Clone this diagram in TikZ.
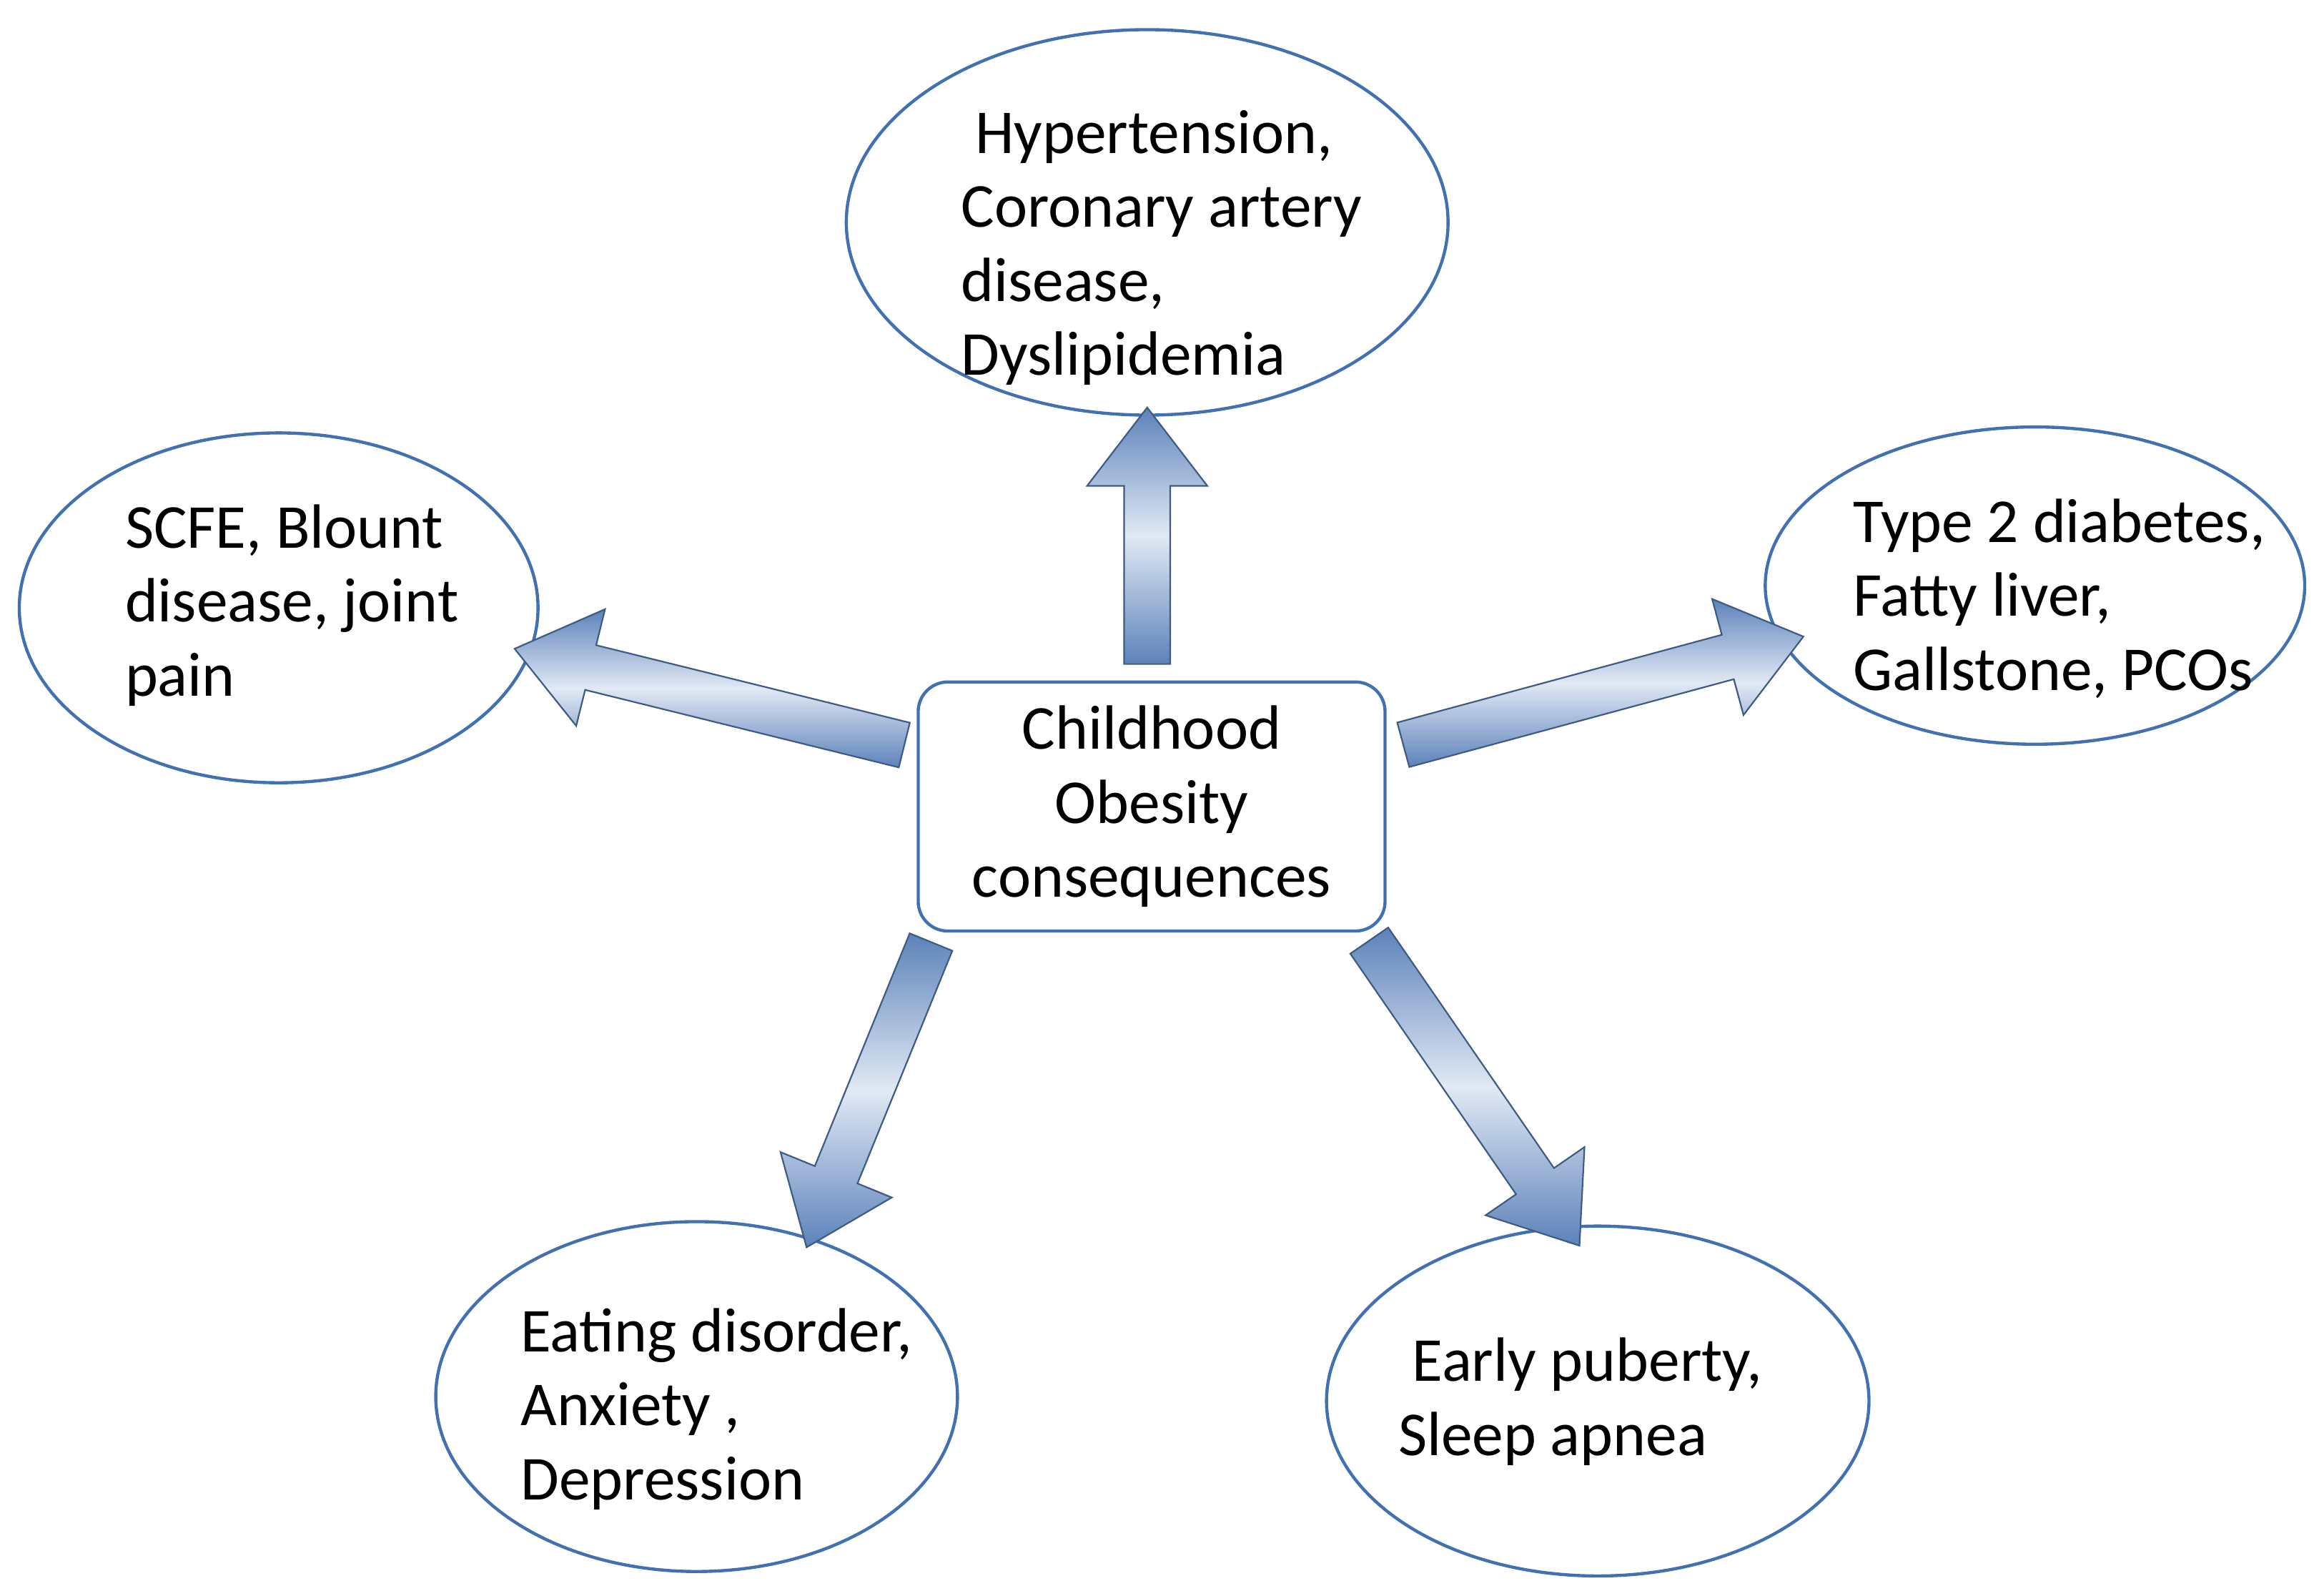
\documentclass[tikz,border=0pt]{standalone}
\usepackage{fontspec}
\setmainfont{Carlito}
\usetikzlibrary{shapes.geometric,shapes.arrows,calc}
\definecolor{eb}{RGB}{65,113,176}
\definecolor{ad}{RGB}{92,130,186}
\definecolor{al}{RGB}{225,233,244}
\begin{document}
\begin{tikzpicture}[x=0.1mm,y=-0.1mm,
 ell/.style={ellipse,draw=eb,line width=0.6pt,fill=white,inner sep=0},
 txt/.style={align=left,font=\fontsize{12}{14.2}\selectfont},
 barrow/.style={single arrow,draw=ad!70!black,line width=0.3pt,minimum width=0.62cm,
   single arrow tip angle=75,inner xsep=0,inner ysep=0.15cm,
   top color=ad,bottom color=ad,middle color=al}]
\useasboundingbox (0,0) rectangle (1568,1073);
\newcommand{\blockarrow}[2]{\path let \p1=(#1), \p2=(#2), \n1={atan2(\y2-\y1,\x2-\x1)}, \n2={veclen(\x2-\x1,\y2-\y1)} in
  node[barrow,rotate=\n1,minimum height=\n2] at ($(#1)!0.5!(#2)$) {};}
\coordinate (t0) at (774,458); \coordinate (t1) at (774,285);
\coordinate (l0) at (620,505); \coordinate (l1) at (357,440);
\coordinate (r0) at (937,505); \coordinate (r1) at (1207,432);
\coordinate (bl0) at (632,626); \coordinate (bl1) at (548,832);
\coordinate (br0) at (918,626); \coordinate (br1) at (1060,832);
\node[ell,minimum width=4.06cm,minimum height=2.6cm] (top) at (774,150) {};
\node[txt,anchor=north west] at (636,62) {\ Hypertension,\\Coronary artery\\disease,\\Dyslipidemia};
\node[ell,minimum width=3.5cm,minimum height=2.36cm] (left) at (188,410) {};
\node[txt,anchor=north west] at (72,328) {SCFE, Blount\\disease, joint\\pain};
\node[ell,minimum width=3.64cm,minimum height=2.14cm] (right) at (1373,395) {};
\node[txt,anchor=north west] at (1238,324) {Type 2 diabetes,\\Fatty liver,\\Gallstone, PCOs};
\node[ell,minimum width=3.52cm,minimum height=2.36cm] (bl) at (470,942) {};
\node[txt,anchor=north west] at (339,870) {Eating disorder,\\Anxiety ,\\Depression};
\node[ell,minimum width=3.66cm,minimum height=2.36cm] (br) at (1078,945) {};
\node[txt,anchor=north west] at (931,890) {\ Early puberty,\\Sleep apnea};
\blockarrow{t0}{t1}
\blockarrow{l0}{l1}
\blockarrow{r0}{r1}
\blockarrow{bl0}{bl1}
\blockarrow{br0}{br1}
\node[draw=eb,line width=0.6pt,rounded corners=0.2cm,fill=white,minimum width=3.15cm,minimum height=1.68cm,
  align=center,font=\fontsize{12}{14.2}\selectfont] (c) at (777,544) {Childhood\\Obesity\\consequences};
\end{tikzpicture}
\end{document}
